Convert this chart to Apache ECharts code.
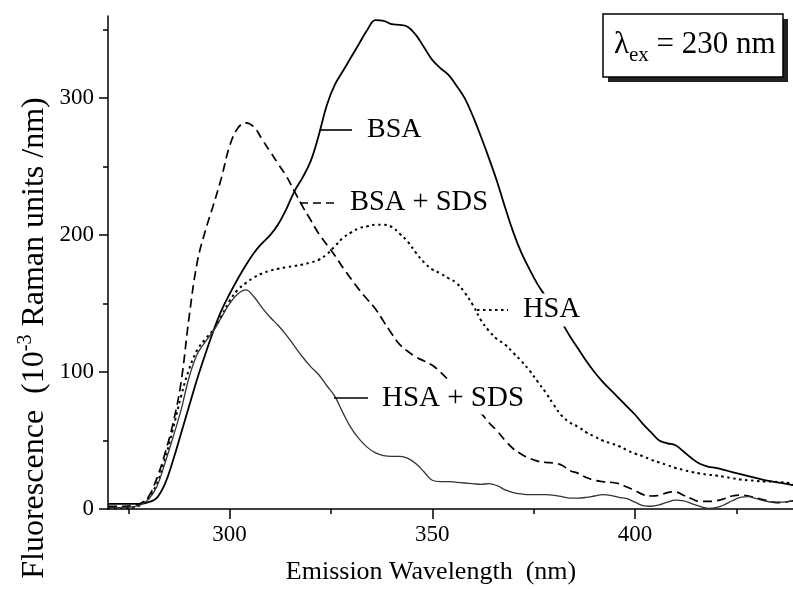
<!DOCTYPE html>
<html><head><meta charset="utf-8">
<script src="https://cdn.jsdelivr.net/npm/echarts@6/dist/echarts.min.js"></script>
<style>html,body{margin:0;padding:0;background:#fff}#c{width:793px;height:589px}</style>
</head><body><div id="c"></div>
<script>
const wavelengths = [270,272,274,276,278,280,282,284,286,288,
  290,292,294,296,298,300,302,304,306,308,
  310,312,314,316,318,320,322,324,326,328,
  330,332,334,336,338,340,342,344,346,348,
  350,352,354,356,358,360,362,364,366,368,
  370,372,374,376,378,380,382,384,386,388,
  390,392,394,396,398,400,402,404,406,408,
  410,412,414,416,418,420,422,424,426,428,
  430,432,434,436,438,440];
const bsa = [3.7,3.7,3.7,3.7,3.8,5,8,18,35,55,
  75,95,113,130,145,157,168,178,187,194,
  200,208,219,232,242,254,273,295,310,320,
  330,340,350,357,356.5,354,353.5,352,346,337,
  328,322,317,309,300,287,272,256,239,220,
  202,187,175,164,155,145,136,126,117,108,
  100,93,87,81,75,69,62,56,50,48,
  46.5,42,37,33,31,30,28.5,27,25.5,24,
  22.5,21,20,19,18,17];
const bsaSds = [2,2,2,2.5,4,9,22,40,62,92,
  140,180,203,222,242,265,278,282,279,270,
  261,252,243,232,221,211,201,193,185,176,
  168,160,153,146,137,128,120,115,111,108,
  105,100,94,86,79,75,70,63,57,50,
  44,40,37,35,34,33.5,32,28,26,23,
  21,20,19.5,18.5,16,13.5,10.5,9.5,10,12,
  12.5,10,7.5,5.5,5.5,6,7.5,9.5,10.2,9.5,
  8,6.5,5,4.6,5.5,6.5];
const hsa = [0.5,0.5,0.5,1,3,8,18,36,58,82,
  102,116,124,131,141,152,160,165,169,172,
  174,175.5,176.5,177.5,178.5,180,182,186,192,198,
  202,205,206.5,207.5,207.5,206,201,195,187,180,
  175,172,168.5,165,158,149,138,130,124,120,
  114,108,101,93,85,76,68,63,60,56,
  53,50,48,46,43,40.5,38.5,36,34,32,
  30,28.5,27,26,25,24.5,23.5,22.5,21.5,21,
  20.5,20,20,19.5,19,18.5];
const hsaSds = [1,1,1,1.5,3,7,16,33,52,72,
  96,113,122,130,140,150,157,160,155,147,
  140,134,127,119,111,104,98,90,82,70,
  59,51,45,41,39,38.5,38.5,37,33,27,
  21,20,20,19.5,19,18.5,18,18.5,17,14,
  12,11,10.5,10.5,10.5,10,9,8,8,8.5,
  9.5,10.5,10,8.5,7.5,5,2.5,2,3,5,
  6.5,6,4,2,0.5,1,3,6,8.5,9,
  7.5,6,5,5,5.5,6];
const xMajorTicks = [300,350,400];
const xMinorTicks = [275,325,375,425];
const yMajorTicks = [0,100,200,300];
const yMinorTicks = [50,150,250,350];
const seriesNames = ['BSA','BSA + SDS','HSA','HSA + SDS'];

const FONT = 'Liberation Serif';
const pairs = arr => wavelengths.map((w,i)=>[w, arr[i]]);
const chart = echarts.init(document.getElementById('c'), null, {renderer:'canvas'});
const axisLine = {show:true, lineStyle:{color:'#000', width:1.5}};
const xBase = {type:'value', min:270, max:439, gridIndex:0, position:'bottom', splitLine:{show:false}};
const yBase = {type:'value', min:0, max:360, gridIndex:0, position:'left', splitLine:{show:false}};
const txt = (x,y,text,size,extra) => Object.assign({type:'text', x, y, z:100,
  style:Object.assign({text, fontSize:size, fontFamily:FONT, fill:'#000', align:'left', verticalAlign:'middle'}, extra||{})});
const seg = (x1,y1,x2,y2,dash,w) => ({type:'line', z:100, shape:{x1,y1,x2,y2},
  style:{stroke:'#000', lineWidth:w||1.6, lineDash:dash||null}});
chart.setOption({
  animation:false,
  backgroundColor:'#fff',
  grid:{left:108, right:0, top:16, bottom:80},
  xAxis:[
    Object.assign({}, xBase, {axisLine, axisTick:{show:true, length:10, customValues:xMajorTicks, lineStyle:{color:'#000', width:1.5}},
      axisLabel:{customValues:xMajorTicks, fontSize:23, fontFamily:FONT, color:'#000', margin:14}}),
    Object.assign({}, xBase, {axisLine:{show:false}, axisTick:{show:true, length:5, customValues:xMinorTicks, lineStyle:{color:'#000', width:1.5}},
      axisLabel:{show:false}})
  ],
  yAxis:[
    Object.assign({}, yBase, {axisLine, axisTick:{show:true, length:9, customValues:yMajorTicks, lineStyle:{color:'#000', width:1.5}},
      axisLabel:{customValues:yMajorTicks, fontSize:23, fontFamily:FONT, color:'#000', margin:14}}),
    Object.assign({}, yBase, {axisLine:{show:false}, axisTick:{show:true, length:5, customValues:yMinorTicks, lineStyle:{color:'#000', width:1.5}},
      axisLabel:{show:false}})
  ],
  series:[
    {name:seriesNames[0], type:'line', data:pairs(bsa), showSymbol:false, smooth:0.4,
      lineStyle:{color:'#000', width:1.8}},
    {name:seriesNames[1], type:'line', data:pairs(bsaSds), showSymbol:false, smooth:0.4,
      lineStyle:{color:'#000', width:1.7, type:[9,5]}},
    {name:seriesNames[2], type:'line', data:pairs(hsa), showSymbol:false, smooth:0.4,
      lineStyle:{color:'#000', width:2, type:[2.5,3.5]}},
    {name:seriesNames[3], type:'line', data:pairs(hsaSds), showSymbol:false, smooth:0.4,
      lineStyle:{color:'#333', width:1.3}}
  ],
  graphic:[
    // in-plot labels
    seg(320,130,352,130),
    txt(363,130,seriesNames[0],28,{backgroundColor:'#fff', padding:[2,4]}),
    seg(300,203,336,203,[8,5]),
    txt(346,203,seriesNames[1],28.5,{backgroundColor:'#fff', padding:[2,4]}),
    seg(477,310,508,310,[2.5,3.5],2),
    txt(519,310,seriesNames[2],28.5,{backgroundColor:'#fff', padding:[2,4]}),
    seg(334,398,368,398,null,1.3),
    txt(378,398,seriesNames[3],29,{backgroundColor:'#fff', padding:[2,4]}),
    // lambda box
    {type:'rect', z:100, shape:{x:608, y:19, width:180, height:63}, style:{fill:'#222'}},
    {type:'rect', z:101, shape:{x:603, y:14, width:180, height:63}, style:{fill:'#fff', stroke:'#000', lineWidth:1.5}},
    {type:'text', z:102, x:614, y:45, style:{text:'{l|λ}{s|ex}{n| = 230 nm}', fontFamily:FONT, fill:'#000',
      align:'left', verticalAlign:'middle',
      rich:{l:{fontSize:31, lineHeight:42, fontFamily:FONT}, s:{fontSize:21, lineHeight:19, verticalAlign:'bottom', fontFamily:FONT},
        n:{fontSize:31, lineHeight:42, fontFamily:FONT}}}},
    // axis titles
    txt(431,572,'Emission Wavelength  (nm)',26,{align:'center'}),
    {type:'text', z:100, x:35, y:338, rotation:Math.PI/2, style:{text:'{a|Fluorescence  (10}{b|-3}{a| Raman units /nm)}',
      fontFamily:FONT, fill:'#000', align:'center', verticalAlign:'middle',
      rich:{a:{fontSize:32, lineHeight:38, fontFamily:FONT}, b:{fontSize:20, lineHeight:20, verticalAlign:'top', fontFamily:FONT}}}}
  ]
});
</script></body></html>
